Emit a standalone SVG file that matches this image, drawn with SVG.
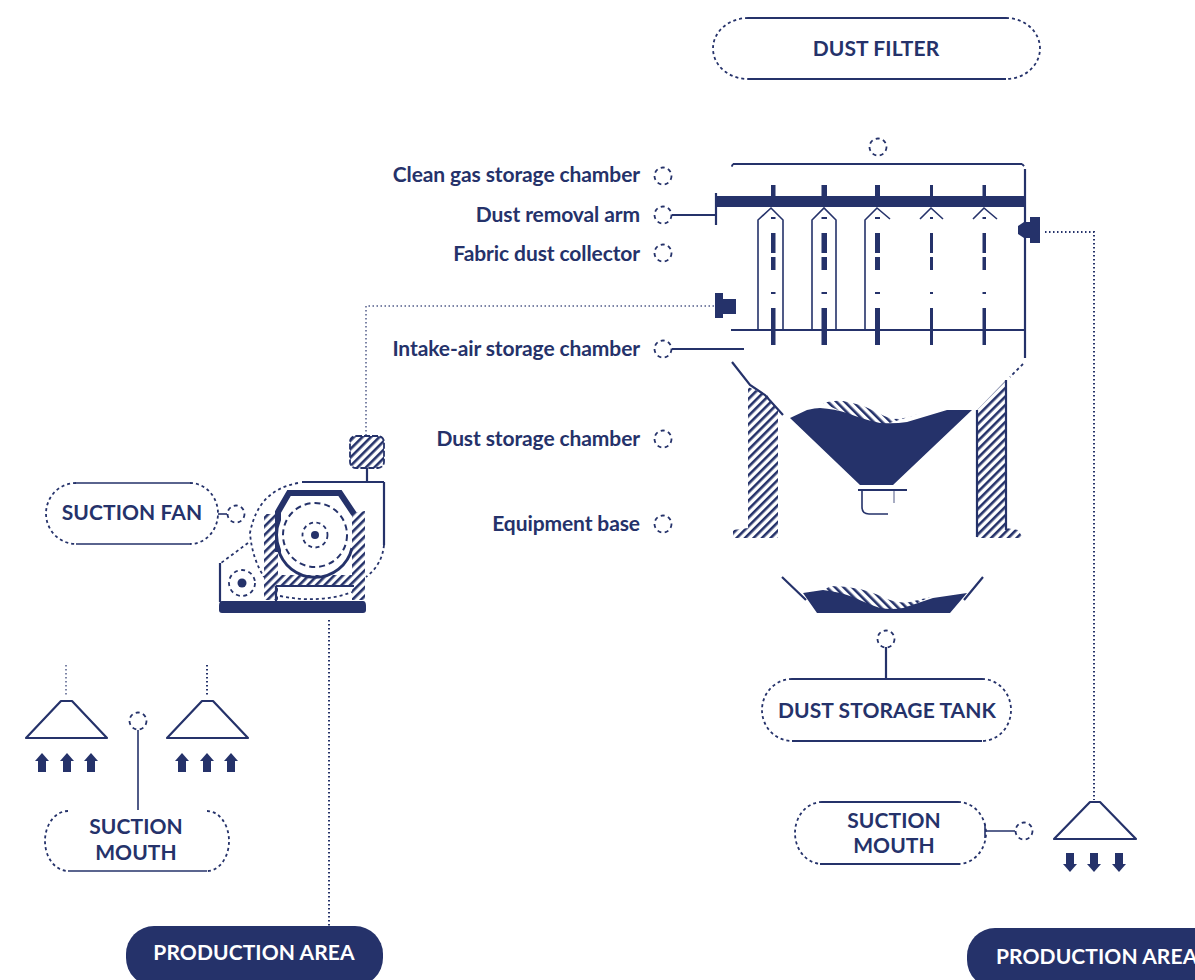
<svg xmlns="http://www.w3.org/2000/svg" width="1195" height="980" viewBox="0 0 1195 980">
<style>
text{font-family:Lato,"Liberation Sans",sans-serif;font-weight:700;fill:#25326a;font-size:21px;letter-spacing:-.1px}
.c{letter-spacing:.1px}
.m{text-anchor:middle}.e{text-anchor:end}
.l{fill:none;stroke:#25326a;stroke-width:2.2}
.t{stroke-width:1.6}
.d{fill:none;stroke:#25326a;stroke-width:2;stroke-dasharray:1.5 2.5}
.o{fill:none;stroke:#25326a;stroke-width:1.8;stroke-dasharray:4 3.5}
.f{fill:#25326a;stroke:none}
.h{fill:url(#hatch);stroke:none}
.b{fill:url(#back);stroke:none}
.p{fill:none;stroke:#25326a;stroke-width:1.8;stroke-dasharray:3 3}
</style>
<defs>
<pattern id="hatch" width="6" height="6" patternUnits="userSpaceOnUse" patternTransform="rotate(45)"><rect width="2.6" height="6" fill="#25326a"/></pattern>
<pattern id="back" width="6" height="6" patternUnits="userSpaceOnUse" patternTransform="rotate(-45)"><rect width="2.6" height="6" fill="#25326a"/></pattern>
<g id="up"><path class="f" d="M0-9L7-1H4V10H-4V-1H-7Z"/></g>
<g id="down"><path class="f" d="M0 10L7 2H4V-9H-4V2H-7Z"/></g>
</defs>
<rect width="1195" height="980" fill="#fff"/>

<g id="connectors">
<path class="d" d="M714 306H366V436" stroke-opacity=".6"/>
<path class="d" d="M1045 232H1094V800"/>
<path class="d" d="M329 620V928"/>
<path class="d" d="M66 665V697" stroke-opacity=".6"/>
<path class="d" d="M207 665V695"/>
<path class="l t" d="M138 730V810"/>
<path class="l" d="M886 647V679"/>
<path class="l t" d="M985 824V838M985 831H1015"/>
<path class="l" d="M672 215H716"/>
<path class="l" d="M672 349H744"/>
<path class="l t" d="M218 514H227"/>
</g>

<g id="dust-filter-label">
<path class="l" d="M748 18H1006M748 79H1006"/>
<path class="p" d="M748 18A35 30.500 0 0 0 748 79M1006 18A34 30.500 0 0 1 1006 79"/>
<text class="m c" x="876" y="56">DUST FILTER</text>
</g>

<g id="callouts">
<circle class="o" cx="878" cy="147" r="8.500"/>
<circle class="o" cx="663" cy="176" r="8.500"/>
<circle class="o" cx="663" cy="215" r="8.500"/>
<circle class="o" cx="663" cy="253" r="8.500"/>
<circle class="o" cx="663" cy="349" r="8.500"/>
<circle class="o" cx="663" cy="439" r="8.500"/>
<circle class="o" cx="663" cy="524" r="8.500"/>
<circle class="o" cx="236" cy="514" r="8.500"/>
<circle class="o" cx="138" cy="721" r="8.500"/>
<circle class="o" cx="886" cy="639" r="8.500"/>
<circle class="o" cx="1024" cy="831" r="8.500"/>
<text class="e" x="640" y="182">Clean gas storage chamber</text>
<text class="e" x="640" y="222">Dust removal arm</text>
<text class="e" x="640" y="261">Fabric dust collector</text>
<text class="e" x="640" y="356">Intake-air storage chamber</text>
<text class="e" x="640" y="446">Dust storage chamber</text>
<text class="e" x="640" y="531">Equipment base</text>
</g>

<g id="dust-collector">
<path class="l" d="M733 164H1022"/>
<path class="p" d="M733 164L731 168M1022 164L1025 167"/>
<path class="l" d="M1025 169V358"/>
<path class="p" d="M1023 364L1010 377"/>
<rect class="f" x="716" y="196" width="310" height="11"/>
<path class="l" d="M716 193V225"/>
<path class="l" d="M731 330H1025"/>
<g class="f">
<rect x="771" y="185" width="4.500" height="12"/><rect x="821.500" y="185" width="5.500" height="12"/><rect x="875" y="185" width="5" height="12"/><rect x="930" y="185" width="3" height="12"/><rect x="982.500" y="185" width="3.500" height="12"/>
<rect x="771" y="233" width="4.500" height="20"/><rect x="771" y="257" width="4.500" height="13"/><rect x="771" y="292" width="4.500" height="2"/><rect x="771" y="308" width="4.500" height="37"/>
<rect x="821.500" y="233" width="5.500" height="20"/><rect x="821.500" y="257" width="5.500" height="13"/><rect x="821.500" y="292" width="5.500" height="2"/><rect x="821.500" y="308" width="5.500" height="37"/>
<rect x="875" y="233" width="5" height="20"/><rect x="875" y="257" width="5" height="13"/><rect x="875" y="292" width="5" height="2"/><rect x="875" y="308" width="5" height="37"/>
<rect x="930" y="233" width="3" height="20"/><rect x="930" y="257" width="3" height="13"/><rect x="930" y="292" width="3" height="2"/><rect x="930" y="308" width="3" height="37"/>
<rect x="982.500" y="233" width="3.500" height="20"/><rect x="982.500" y="257" width="3.500" height="13"/><rect x="982.500" y="292" width="3.500" height="2"/><rect x="982.500" y="308" width="3.500" height="37"/>
<rect x="771" y="217" width="4.500" height="2"/><rect x="821.500" y="217" width="5.500" height="2"/><rect x="875" y="217" width="5" height="2"/><rect x="930" y="217" width="3" height="2"/><rect x="982.500" y="217" width="3.500" height="2"/>
</g>
<path class="l t" d="M758 330V220L771 208L783 220V330"/>
<path class="l t" d="M812 330V220L824 208L836 220V330"/>
<path class="l t" d="M865 330V220L877 208L890 219"/>
<path class="l t" d="M920 219L931 208L943 219M973 219L984 208L997 219"/>
<path class="f" d="M1018 226L1024 222H1030V217H1040V243H1030V238H1024L1018 234Z"/>
<path class="f" d="M715 293H723V299H736V314H723V318H715Z"/>
<path class="l" d="M732 362L750 385L765 395L783 415"/>
<path class="h" d="M748 387L767 395L778 410V538H733V530L748 528Z"/>
<path class="h" d="M1006 380V528L1018 530L1023 538H977V410Z"/>
<path class="l" d="M977 410V537M1006 380V530"/>
<path class="b" d="M823 403Q834 400 843 401Q860 404 870 409Q885 417 893 419Q905 419 918 414L880 426L848 415Z"/>
<path class="f" d="M790 418L807 410Q815 408 820 408Q835 409 847 413Q865 420 880 423Q895 424 907 422L947 410H972L893 485H860Z"/>
<path class="l" d="M858 490H907"/>
<path class="l t" d="M862 490V507Q862 514 869 514H888"/>
<path class="l t" d="M894 490V503" stroke-opacity=".5"/>
<path class="l" d="M782 577L806 600M983 577L964 600"/>
<path class="b" d="M830 586Q845 586 860 589Q875 593 887 599Q900 604 910 602L930 597L903 610H880L853 599L823 591Z"/>
<path class="f" d="M803 593L823 590Q840 592 853 597Q868 604 880 608Q892 610 903 608L933 598L967 593L950 613H817Z"/>
</g>

<g id="suction-fan">
<path class="l" d="M302 482H384M384 482V545"/>
<path class="l" d="M367 482V468"/>
<rect x="350" y="436" width="34" height="32" rx="6" fill="url(#hatch)" stroke="#25326a" stroke-width="1.800" stroke-dasharray="6 2"/>
<path class="p" d="M384 545Q382 565 366 577"/>
<path class="p" d="M298 483Q258 490 250 533Q252 558 264 577"/>
<path class="p" d="M248 543L221 563"/>
<path class="l" d="M220 563V602"/>
<path class="h" d="M264 514H278V600H264ZM352 513L365 511V600H352ZM278 575H352V585H278Z"/>
<path class="f" d="M222 601H363Q366 601 366 606V610Q366 613 363 613H222Q219 613 219 610V606Q219 601 222 601Z"/>
<path class="l" d="M276 586H354M276 586V601"/>
<path class="p" d="M280 596Q320 604 352 592"/>
<path fill="none" stroke="#25326a" stroke-width="6" d="M278 552V512L289 493H340L354 514"/>
<path fill="#fff" d="M278 535A37 37 0 0 0 352 535A37 37 0 0 0 278 535Z"/>
<path fill="none" stroke="#25326a" stroke-width="3" d="M278 548A38 38 0 0 0 352 548"/>
<circle cx="315" cy="535" r="32" fill="none" stroke="#25326a" stroke-width="2" stroke-dasharray="6 4"/>
<circle cx="315" cy="535" r="12.500" class="o"/>
<circle cx="315" cy="535" r="4" class="f"/>
<circle cx="242" cy="583" r="13" class="o"/>
<circle cx="242" cy="583" r="4.500" class="f"/>
</g>

<g id="suction-fan-label">
<path class="l t" d="M76 483H190M76 544H190"/>
<path class="p" d="M76 483A30 30.500 0 0 0 76 544M190 483A28 30.500 0 0 1 190 544"/>
<text class="m c" x="132" y="520">SUCTION FAN</text>
</g>

<g id="left-mouth-1">
<path class="l" d="M26 738H107L72 701H61Z" stroke-linejoin="round" stroke-width="2.600"/>
<use href="#up" x="42" y="762"/><use href="#up" x="67" y="762"/><use href="#up" x="91" y="762"/>
</g>
<g id="left-mouth-2">
<path class="l" d="M167 738H248L213 701H202Z" stroke-linejoin="round" stroke-width="2.600"/>
<use href="#up" x="182" y="762"/><use href="#up" x="207" y="762"/><use href="#up" x="231" y="762"/>
</g>
<g id="left-mouth-label">
<path class="l t" d="M68 871H207"/>
<path class="p" d="M68 811A23 30 0 0 0 68 871M207 811A22 30 0 0 1 207 871"/>
<text class="m c" x="136" y="834">SUCTION</text>
<text class="m c" x="136" y="860">MOUTH</text>
</g>

<g id="dust-tank-label">
<path class="l" d="M792 679H982M792 741H982"/>
<path class="p" d="M792 679A30 31 0 0 0 792 741M982 679A29 31 0 0 1 982 741"/>
<text class="m c" x="887" y="718">DUST STORAGE TANK</text>
</g>

<g id="right-mouth">
<path class="l" d="M1054 839H1136L1100 802H1090Z" stroke-linejoin="round" stroke-width="2.600"/>
<use href="#down" x="1070" y="862"/><use href="#down" x="1094" y="862"/><use href="#down" x="1119" y="862"/>
</g>
<g id="right-mouth-label">
<path class="l" d="M822 802H958M820 864H960"/>
<path class="p" d="M822 802A27 31 0 0 0 822 864M958 802A28 31 0 0 1 958 864"/>
<text class="m c" x="894" y="828">SUCTION</text>
<text class="m c" x="894" y="853">MOUTH</text>
</g>

<g id="production-area-1">
<rect x="126" y="926" width="257" height="60" rx="28" fill="#25326a"/>
<text class="m c" x="254" y="960" style="fill:#fff">PRODUCTION AREA</text>
</g>
<g id="production-area-2">
<rect x="967" y="928" width="260" height="60" rx="28" fill="#25326a"/>
<text class="c" x="996" y="964" style="fill:#fff">PRODUCTION AREA</text>
</g>
</svg>
